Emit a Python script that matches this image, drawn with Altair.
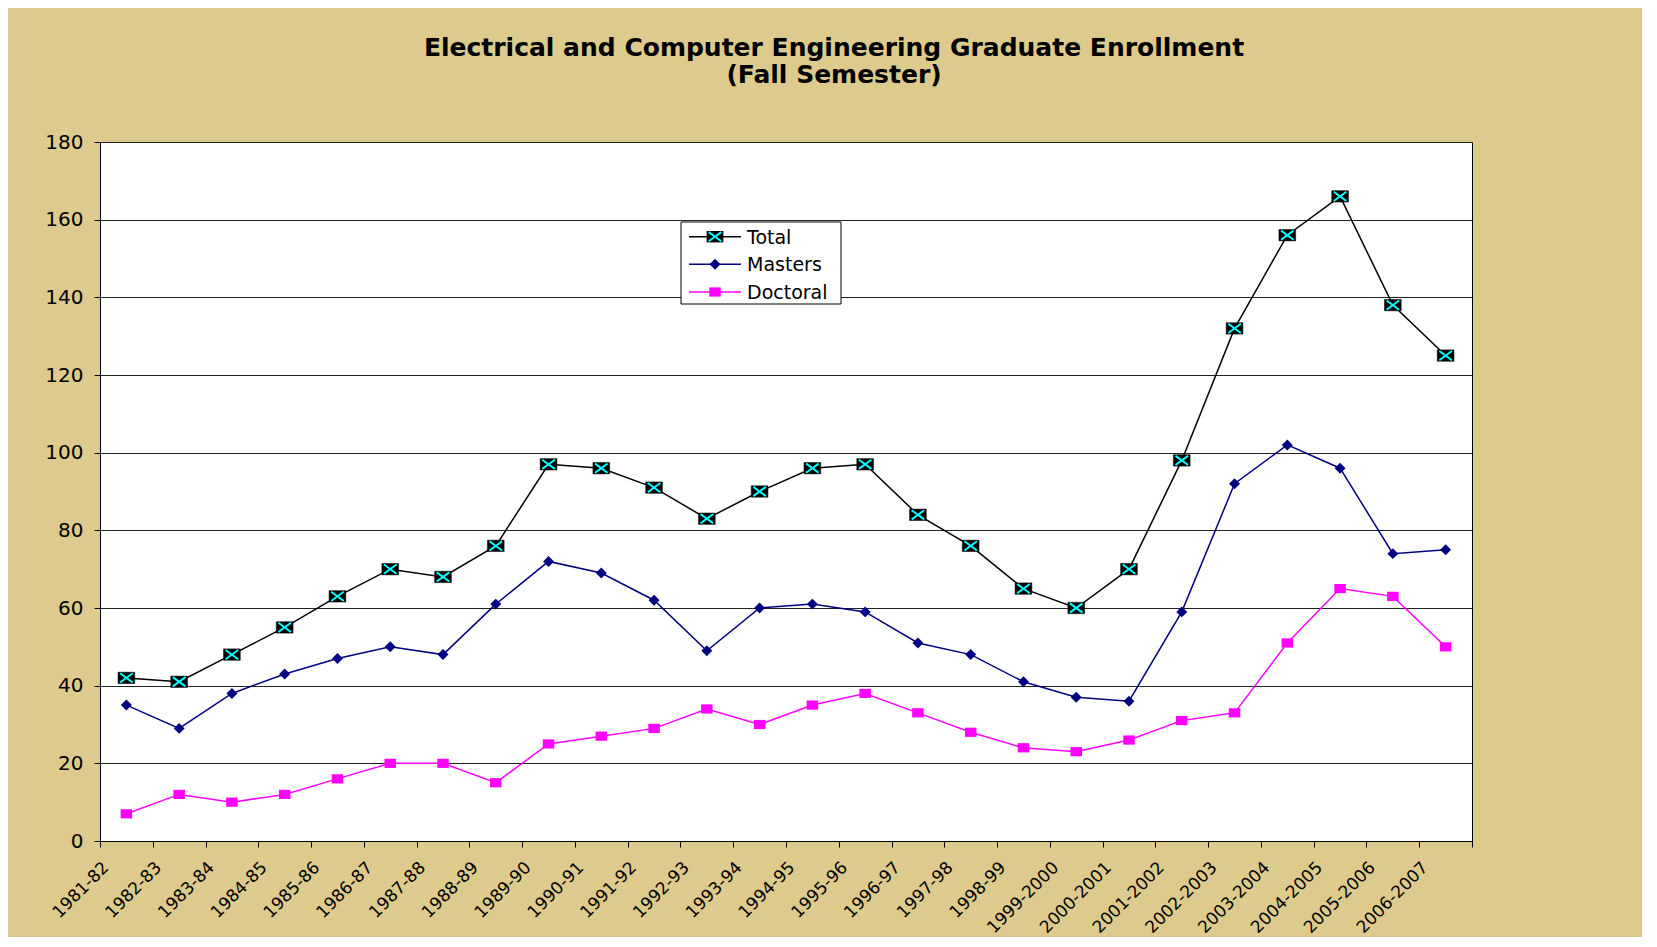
import altair as alt
import pandas as pd

years = ["1981-82", "1982-83", "1983-84", "1984-85", "1985-86", "1986-87", "1987-88",
         "1988-89", "1989-90", "1990-91", "1991-92", "1992-93", "1993-94", "1994-95",
         "1995-96", "1996-97", "1997-98", "1998-99", "1999-2000", "2000-2001",
         "2001-2002", "2002-2003", "2003-2004", "2004-2005", "2005-2006", "2006-2007"]
total = [42, 41, 48, 55, 63, 70, 68, 76, 97, 96, 91, 83, 90, 96, 97, 84, 76, 65, 60, 70,
         98, 132, 156, 166, 138, 125]
masters = [35, 29, 38, 43, 47, 50, 48, 61, 72, 69, 62, 49, 60, 61, 59, 51, 48, 41, 37, 36,
           59, 92, 102, 96, 74, 75]
doctoral = [7, 12, 10, 12, 16, 20, 20, 15, 25, 27, 29, 34, 30, 35, 38, 33, 28, 24, 23, 26,
            31, 33, 51, 65, 63, 50]
series_names = ["Total", "Masters", "Doctoral"]
series_colors = ["#000000", "#000080", "#FF00FF"]
title_lines = ["Electrical and Computer Engineering Graduate Enrollment", "(Fall Semester)"]

rows = []
for name, vals in zip(series_names, [total, masters, doctoral]):
    for i, v in enumerate(vals):
        rows.append({"series": name, "idx": i, "pos": i + 0.5, "year": years[i], "value": v})
df = pd.DataFrame(rows)

W, H = 1372, 699
n = len(years)
label_arr = "[" + ",".join("'%s'" % y for y in years) + "]"

x_enc = alt.X("pos:Q",
              scale=alt.Scale(domain=[0, n], nice=False, zero=False),
              axis=alt.Axis(values=list(range(n + 1)), labelExpr=label_arr + "[datum.value] || ''",
                            labelAngle=-45, labelAlign="right", labelBaseline="top",
                            labelOverlap=False, labelBound=False, labelFlush=False,
                            grid=False, title=None, tickSize=6,
                            tickColor="#000000", domainColor="#000000", labelPadding=12,
                            labelFontSize=17, labelColor="#000000", labelFont="DejaVu Sans"))
y_enc = alt.Y("value:Q",
              scale=alt.Scale(domain=[0, 180], nice=False),
              axis=alt.Axis(values=list(range(0, 181, 20)), grid=True, gridColor="#222222",
                            gridWidth=1, title=None, tickSize=6, tickColor="#000000",
                            domainColor="#000000", labelPadding=11, labelFontSize=20,
                            labelColor="#000000", labelFont="DejaVu Sans"))

color_scale = alt.Scale(domain=series_names, range=series_colors)

base = alt.Chart(df)

lines = base.mark_line(strokeWidth=1.5).encode(
    x=x_enc, y=y_enc,
    color=alt.Color("series:N", scale=color_scale, legend=None),
    detail="series:N")

rect_path = "M-1,-0.68H1V0.68H-1Z"
x_path = "M-0.75,-0.55L0.75,0.55M-0.75,0.55L0.75,-0.55"
dsq_path = "M-1,-0.8H1V0.8H-1Z"
TOT_SIZE, MAS_SIZE, DOC_SIZE = 280, 120, 132

tot_box = base.transform_filter(alt.datum.series == "Total").mark_point(
    shape=rect_path, filled=True, fill="#000000", stroke="#000000", strokeWidth=0.5,
    size=TOT_SIZE, opacity=1).encode(x="pos:Q", y="value:Q")
tot_x = base.transform_filter(alt.datum.series == "Total").mark_point(
    shape=x_path, filled=False, stroke="#00FFFF", strokeWidth=2, size=TOT_SIZE,
    opacity=1).encode(x="pos:Q", y="value:Q")
mas_pts = base.transform_filter(alt.datum.series == "Masters").mark_point(
    shape="diamond", filled=True, fill="#000080", size=MAS_SIZE, opacity=1).encode(
    x="pos:Q", y="value:Q")
doc_pts = base.transform_filter(alt.datum.series == "Doctoral").mark_point(
    shape=dsq_path, filled=True, fill="#FF00FF", size=DOC_SIZE, opacity=1).encode(
    x="pos:Q", y="value:Q")

one = alt.Chart(pd.DataFrame({"k": [0]}))

# legend
leg_box = one.mark_rect(fill="#FFFFFF", stroke="#000000", strokeWidth=1).encode(
    x=alt.value(581), x2=alt.value(741), y=alt.value(80), y2=alt.value(162))
legend_layers = [leg_box]
row_y = [94.7, 122.3, 150.0]
for name, col, ly in zip(series_names, series_colors, row_y):
    legend_layers.append(one.mark_rule(color=col, strokeWidth=1.5).encode(
        x=alt.value(589), x2=alt.value(641), y=alt.value(ly)))
    if name == "Total":
        legend_layers.append(one.mark_point(shape=rect_path, filled=True, fill="#000000",
                                            size=TOT_SIZE, opacity=1).encode(
            x=alt.value(615), y=alt.value(ly)))
        legend_layers.append(one.mark_point(shape=x_path, filled=False, stroke="#00FFFF",
                                            strokeWidth=2, size=TOT_SIZE, opacity=1).encode(
            x=alt.value(615), y=alt.value(ly)))
    elif name == "Masters":
        legend_layers.append(one.mark_point(shape="diamond", filled=True, fill="#000080",
                                            size=MAS_SIZE, opacity=1).encode(
            x=alt.value(615), y=alt.value(ly)))
    else:
        legend_layers.append(one.mark_point(shape=dsq_path, filled=True, fill="#FF00FF",
                                            size=DOC_SIZE, opacity=1).encode(
            x=alt.value(615), y=alt.value(ly)))
    legend_layers.append(one.mark_text(align="left", baseline="middle", fontSize=19,
                                       font="DejaVu Sans", color="#000000").encode(
        x=alt.value(647), y=alt.value(ly + 1), text=alt.value(name)))

title1 = alt.Chart(pd.DataFrame({"t": [title_lines[0]]})).mark_text(
    align="center", baseline="middle", fontSize=25, fontWeight="bold",
    font="DejaVu Sans", color="#000000").encode(
    x=alt.value(734), y=alt.value(-94), text="t:N")
title2 = alt.Chart(pd.DataFrame({"t": [title_lines[1]]})).mark_text(
    align="center", baseline="middle", fontSize=25, fontWeight="bold",
    font="DejaVu Sans", color="#000000").encode(
    x=alt.value(734), y=alt.value(-67), text="t:N")

chart = alt.layer(lines, tot_box, tot_x, mas_pts, doc_pts, *legend_layers, title1, title2).properties(
    width=W, height=H,
    autosize=alt.AutoSizeParams(type="none"),
    padding={"left": 92, "top": 134, "right": 170, "bottom": 96},
).configure(background="#DCCB8D").configure_view(
    fill="#FFFFFF", stroke="#000000", strokeWidth=1)

chart.save("out.html", embed_options={"renderer": "svg", "actions": False})
